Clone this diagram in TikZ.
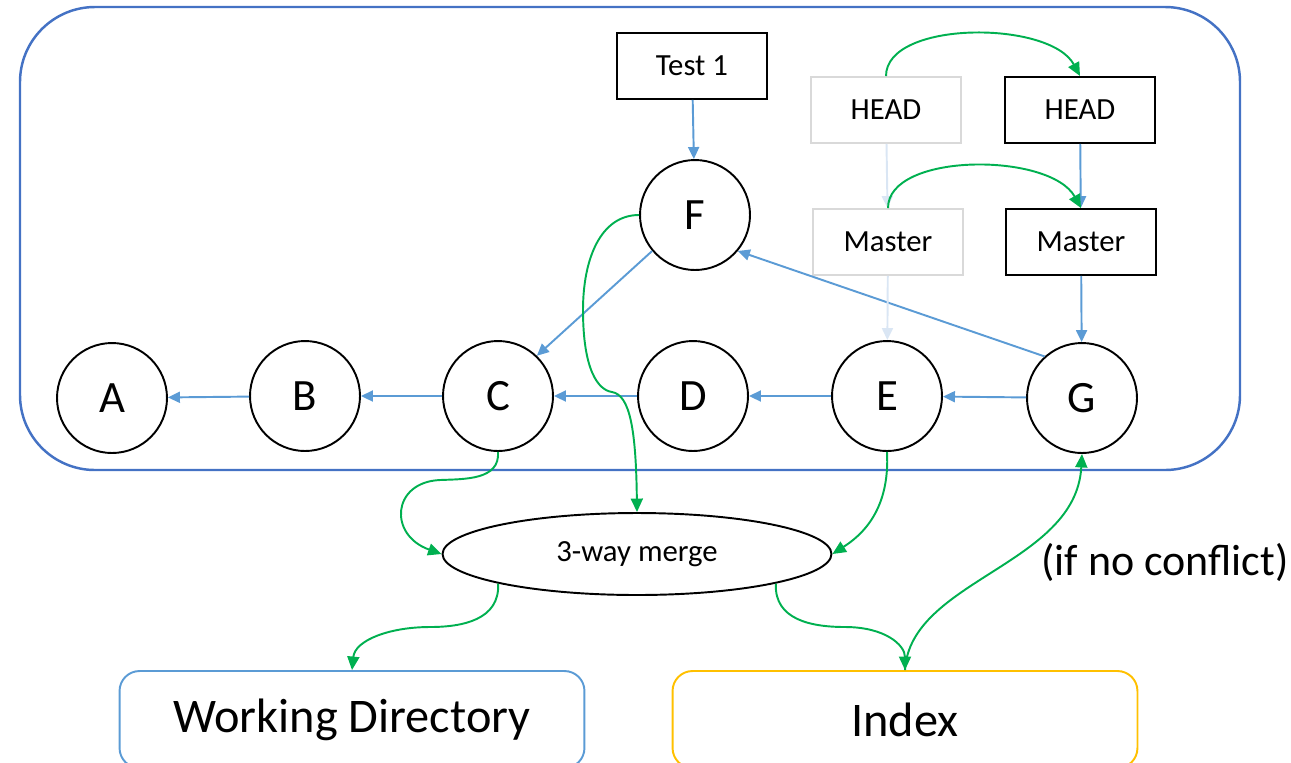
\documentclass[tikz,border=0pt]{standalone}
\usepackage{fontspec}
\setmainfont{Carlito}
\usetikzlibrary{arrows.meta,shapes.geometric}

\definecolor{frameblue}{HTML}{4472C4}
\definecolor{linkblue}{HTML}{5B9BD5}
\definecolor{mergegreen}{HTML}{00B050}
\definecolor{indexgold}{HTML}{FFC000}
\definecolor{fadegray}{HTML}{D9D9D9}
\definecolor{fadeblue}{HTML}{DAE6F4}

\tikzset{
  commit/.style={circle, draw, line width=1.1pt, minimum size=2.2cm, inner sep=0pt,
                 font=\fontsize{25.5}{30}\selectfont},
  refbox/.style={draw, line width=1.1pt, minimum width=3cm, minimum height=1.32cm,
                 inner sep=0pt, font=\fontsize{17.5}{21}\selectfont},
  oldref/.style={refbox, draw=fadegray},
  area/.style={draw, line width=1.1pt, rounded corners=0.4cm, minimum width=9.3cm,
               minimum height=1.94cm, inner sep=0pt, font=\fontsize{27.5}{32}\selectfont},
  link/.style={draw=linkblue, line width=1.1pt,
               -{Triangle[length=0.24cm,width=0.22cm,fill=linkblue]}},
  oldlink/.style={draw=fadeblue, line width=1.1pt,
               -{Triangle[length=0.24cm,width=0.22cm,fill=fadeblue]}},
  flow/.style={draw=mergegreen, line width=1.1pt,
               -{Triangle[length=0.27cm,width=0.24cm,fill=mergegreen]}}
}

\begin{document}
\begin{tikzpicture}[x=0.02cm, y=-0.02cm]
  \useasboundingbox (0,0) rectangle (1291,762);
  \clip (0,0) rectangle (1291,762);

  % repository frame
  \draw[frameblue, line width=1.4pt, rounded corners=1.5cm] (20,7) rectangle (1240,470);

  % commits
  \node[commit] (A) at (112,398) {A};
  \node[commit] (B) at (305,396) {B};
  \node[commit] (C) at (498,396) {C};
  \node[commit] (D) at (693,396) {D};
  \node[commit] (E) at (887,396) {E};
  \node[commit] (G) at (1082,398) {G};
  \node[commit] (F) at (695,215) {F};

  % references
  \node[refbox] (t1) at (692,66) {Test 1};
  \node[oldref] (hg) at (886,110) {HEAD};
  \node[refbox] (hb) at (1080,110) {HEAD};
  \node[oldref] (mg) at (888,242) {Master};
  \node[refbox] (mb) at (1081,242) {Master};

  % merge and targets
  \node[ellipse, draw, line width=1.1pt, minimum width=7.78cm, minimum height=1.64cm,
        inner sep=0pt, font=\fontsize{17.5}{21}\selectfont] (M) at (637,554) {3-way merge};
  \node[area, draw=linkblue] (wd) at (352,719.5) {Working Directory};
  \node[area, draw=indexgold] (ix) at (905,719.5) {Index};
  \node[font=\fontsize{25}{30}\selectfont] (nc) at (1165,562) {(if no conflict)};

  % parent links
  \draw[link] (B) -- (A);
  \draw[link] (C) -- (B);
  \draw[link] (D) -- (C);
  \draw[link] (E) -- (D);
  \draw[link] (G) -- (E);
  \draw[link] (F.220) -- (C.46);
  \draw[link] (G.132) -- (F.-40);
  \draw[link] (t1) -- (F);
  \draw[link] (hb) -- (mb);
  \draw[link] (mb) -- (G);
  \draw[oldlink] (hg) -- (mg);
  \draw[oldlink] (mg) -- (E);

  % moves and merge flow
  \draw[flow] (hg.north) .. controls (886,20) and (1050,20) .. (hb.north);
  \draw[flow] (mg.north) .. controls (888,152) and (1050,152) .. (mb.north);
  \draw[flow] (F.west) .. controls (600,215) and (583,260) .. (583,310)
                       .. controls (583,370) and (598,390) .. (612,392)
                       .. controls (630,395) and (636,430) .. (M.north);
  \draw[flow] (C.south) .. controls (500,480) and (465,479) .. (440,480)
                        .. controls (392,482) and (388,535) .. (M.west);
  \draw[flow] (E.south) .. controls (890,510) and (862,535) .. (M.east);
  \draw[flow] (M.192) .. controls (500,620) and (462,627) .. (430,627)
                      .. controls (390,627) and (355,640) .. (wd.north);
  \draw[flow] (M.-12) .. controls (774,620) and (812,627) .. (845,627)
                      .. controls (885,627) and (905,645) .. (ix.north);
  \draw[flow] (ix.north) .. controls (910,580) and (1076,565) .. (G.south);
\end{tikzpicture}
\end{document}
